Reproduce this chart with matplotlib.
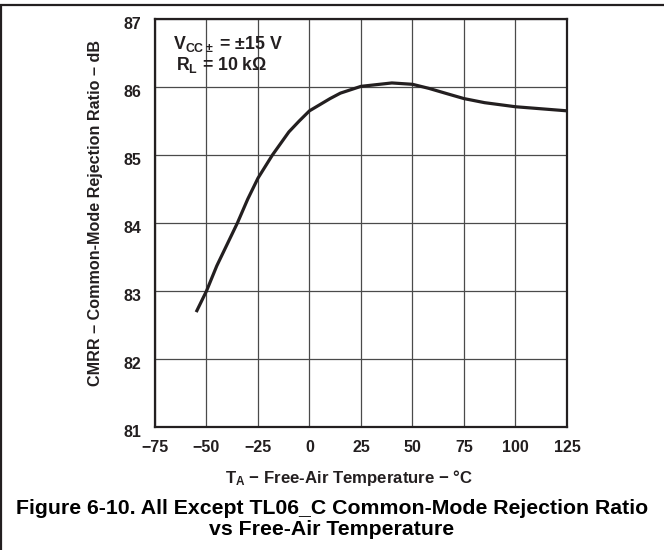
#!/usr/bin/env python3
import matplotlib

matplotlib.use("Agg")
import matplotlib.pyplot as plt
import matplotlib.transforms as mtransforms
from matplotlib.patches import Polygon

# CMRR vs free-air temperature
TEMP_C = [-55, -50, -45, -35, -30, -25, -18, -10, -5, 0, 5, 10, 15, 25, 40, 50,
          58, 67, 75, 85, 100, 125]
CMRR_DB = [82.69, 83.0, 83.37, 84.0, 84.35, 84.66, 85.0, 85.34, 85.5, 85.65,
           85.74, 85.83, 85.91, 86.01, 86.06, 86.04, 85.98, 85.90, 85.83,
           85.77, 85.71, 85.65]

X_TICKS = [-75, -50, -25, 0, 25, 50, 75, 100, 125]
Y_TICKS = [81, 82, 83, 84, 85, 86, 87]

INK = "#231f20"
MINUS = "\u2212"

plt.rcParams["font.family"] = ["Liberation Sans", "DejaVu Sans"]
plt.rcParams["font.weight"] = "bold"
plt.rcParams["mathtext.fontset"] = "custom"
plt.rcParams["mathtext.rm"] = "Liberation Sans:bold"
plt.rcParams["mathtext.bf"] = "Liberation Sans:bold"
plt.rcParams["mathtext.it"] = "Liberation Sans:bold"

fig = plt.figure(figsize=(6.64, 5.5), dpi=100)
ax = fig.add_axes([0.2334, 0.2236, 0.6205, 0.7418])

ax.plot(TEMP_C, CMRR_DB, color=INK, lw=2.3, solid_capstyle="butt", zorder=3)

ax.set_xlim(-75, 125)
ax.set_ylim(81, 87)
ax.set_xticks(X_TICKS)
ax.set_yticks(Y_TICKS)
ax.set_xticklabels([str(v).replace("-", MINUS) for v in X_TICKS])
ax.set_yticklabels([str(v) for v in Y_TICKS])
ax.tick_params(length=0, labelsize=11.5, colors=INK)
ax.tick_params(axis="x", pad=9)
ax.tick_params(axis="y", pad=10)
# datasheet y labels sit a few pixels below their grid lines
shift = mtransforms.ScaledTranslation(0, -4 / 100, fig.dpi_scale_trans)
for lab in ax.get_yticklabels():
    lab.set_transform(lab.get_transform() + shift)

ax.grid(True, color="#4a4a4a", lw=0.9)
for s in ax.spines.values():
    s.set_linewidth(1.6)
    s.set_color(INK)

ax.set_ylabel("CMRR \u2013 Common-Mode Rejection Ratio \u2013 dB", fontsize=11.6,
              fontweight="bold", color=INK)
ax.yaxis.set_label_coords(-0.126, 0.525)
ax.set_xlabel(r"T$_\mathregular{A}$ " + MINUS + " Free-Air Temperature " + MINUS + " \u00b0C",
              fontsize=12.1, fontweight="bold", color=INK)
ax.xaxis.set_label_coords(0.472, -0.101)

ax.text(0.043, 0.94, r"V$_\mathregular{CC\pm}$ = " + "\u00b115 V",
        transform=ax.transAxes, fontsize=12.8, color=INK, va="center")
ax.text(0.05, 0.888, r"R$_\mathregular{L}$ = 10 k" + "\u03a9",
        transform=ax.transAxes, fontsize=12.8, color=INK, va="center")

fig.text(0.5, 0.076, "Figure 6-10. All Except TL06_C Common-Mode Rejection Ratio",
         ha="center", va="center", fontsize=15.3, color="black")
fig.text(0.5, 0.038, "vs Free-Air Temperature",
         ha="center", va="center", fontsize=15.3, color="black")

# page frame: top rule and left rule
frame = Polygon([[0.001, -0.01], [0.001, 1 - 4.5 / 550], [1.01, 1 - 4.5 / 550]],
                closed=False, fill=False, edgecolor=INK, lw=1.6,
                transform=fig.transFigure)
fig.patches.append(frame)

fig.savefig("out.png", dpi=100)
